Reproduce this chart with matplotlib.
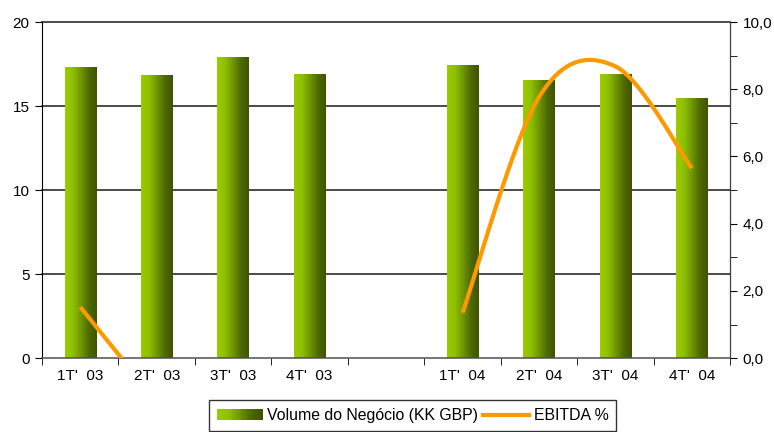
import numpy as np
import matplotlib
matplotlib.use('Agg')
import matplotlib.pyplot as plt
from matplotlib.colors import LinearSegmentedColormap
from matplotlib.patches import Rectangle
from matplotlib.lines import Line2D
from matplotlib.legend_handler import HandlerBase
from matplotlib.ticker import FuncFormatter, MultipleLocator

plt.rcParams['font.family'] = ['Liberation Sans', 'DejaVu Sans']
plt.rcParams['font.size'] = 11

# trimestres (com um espaço vazio entre 2003 e 2004)
trimestres = ["1T'  03", "2T'  03", "3T'  03", "4T'  03", "",
              "1T'  04", "2T'  04", "3T'  04", "4T'  04"]
volume = [17.26, 16.79, 17.86, 16.85, np.nan, 17.38, 16.49, 16.85, 15.42]
ebitda = [1.52, -1.3, np.nan, np.nan, np.nan, 1.35, 7.77, 8.68, 5.65]

verde = LinearSegmentedColormap.from_list(
    'verde', ['#9acc00', '#8fc000', '#6f9600', '#4f6a00', '#3e5300'])
laranja = '#ff9900'


def suavizar(x, y, n=20):
    # curva suavizada (Catmull-Rom) passando pelos pontos de cada trecho
    x = np.asarray(x, float)
    y = np.asarray(y, float)
    ok = ~np.isnan(y)
    trechos = []
    atual = []
    for i in range(len(y)):
        if ok[i]:
            atual.append(i)
        elif atual:
            trechos.append(atual)
            atual = []
    if atual:
        trechos.append(atual)
    out = []
    for t in trechos:
        px, py = x[t], y[t]
        if len(t) < 2:
            continue
        cx, cy = [px[0]], [py[0]]
        for k in range(len(t) - 1):
            p0 = max(k - 1, 0)
            p3 = min(k + 2, len(t) - 1)
            for s in np.linspace(0, 1, n)[1:]:
                s2, s3 = s * s, s * s * s

                def cr(a):
                    return 0.5 * ((2 * a[k]) + (-a[p0] + a[k + 1]) * s +
                                  (2 * a[p0] - 5 * a[k] + 4 * a[k + 1] - a[p3]) * s2 +
                                  (-a[p0] + 3 * a[k] - 3 * a[k + 1] + a[p3]) * s3)
                cx.append(cr(px))
                cy.append(cr(py))
        out.append((cx, cy))
    return out


class HandlerGradiente(HandlerBase):
    def create_artists(self, legend, orig_handle, xdescent, ydescent,
                       width, height, fontsize, trans):
        n = 24
        arts = []
        for i in range(n):
            r = Rectangle((-xdescent + width * i / n, -ydescent), width / n * 1.05, height,
                          facecolor=verde(i / (n - 1)), edgecolor='none', transform=trans)
            arts.append(r)
        return arts


fig = plt.figure(figsize=(7.74, 4.32), dpi=100)
ax = fig.add_axes([0.0543, 0.171, 0.889, 0.778])
ax2 = ax.twinx()

x = np.arange(len(trimestres))
barras = ax.bar(x, volume, 0.41, color='none', edgecolor='none', zorder=2)

grad = np.linspace(0, 1, 256).reshape(1, -1)
for b in barras:
    if np.isnan(b.get_height()):
        continue
    x0, w, h = b.get_x(), b.get_width(), b.get_height()
    ax.imshow(grad, cmap=verde, aspect='auto', extent=(x0, x0 + w, 0, h),
              zorder=2, interpolation='bilinear')

# linhas de grade
for v in [5, 10, 15, 20]:
    ax.axhline(v, color='#1a1a1a', lw=1.1, zorder=1, clip_on=False)
ax.set_xlim(-0.5, 8.5)
ax.set_ylim(0, 20)

ax.set_yticks([0, 5, 10, 15, 20])
ax.set_xticks(x)
ax.set_xticklabels(trimestres)
ax.set_xticks(np.arange(-0.5, 9, 1), minor=True)
ax.tick_params(axis='x', which='major', length=0, pad=8)
ax.tick_params(axis='x', which='minor', length=5, direction='out', color='black')
ax.tick_params(axis='y', length=5, direction='out', pad=4, labelsize=11)
ax.spines['top'].set_visible(False)
ax.spines['bottom'].set_color('#505050')
ax.spines['bottom'].set_linewidth(1.1)
ax.spines['left'].set_color('black')

for cx, cy in suavizar(x, ebitda):
    ax2.plot(cx, cy, color=laranja, lw=3.0, solid_capstyle='butt', zorder=3)
ax2.set_ylim(0, 10)
ax2.yaxis.set_major_locator(MultipleLocator(2))
ax2.yaxis.set_minor_locator(MultipleLocator(1))
ax2.yaxis.set_major_formatter(FuncFormatter(lambda v, p: f'{v:.1f}'.replace('.', ',')))
ax2.tick_params(axis='y', which='both', length=5, direction='out', labelsize=11, pad=4)
ax2.spines['top'].set_visible(False)
ax2.spines['left'].set_visible(False)
ax2.spines['bottom'].set_visible(False)
ax2.spines['right'].set_color('#404040')

handles = [Rectangle((0, 0), 1, 1), Line2D([], [], color=laranja, lw=3.0)]
leg = fig.legend(handles, ['Volume do Negócio (KK GBP)', 'EBITDA %'],
                 loc='upper center', bbox_to_anchor=(0.533, 0.073), ncol=2,
                 handler_map={Rectangle: HandlerGradiente()},
                 frameon=True, fancybox=False, edgecolor='black', fontsize=11.4,
                 handlelength=2.9, handletextpad=0.3, columnspacing=0.3,
                 borderpad=0.5, borderaxespad=0)
leg.get_frame().set_linewidth(1.0)

fig.savefig('out.png', dpi=100)
